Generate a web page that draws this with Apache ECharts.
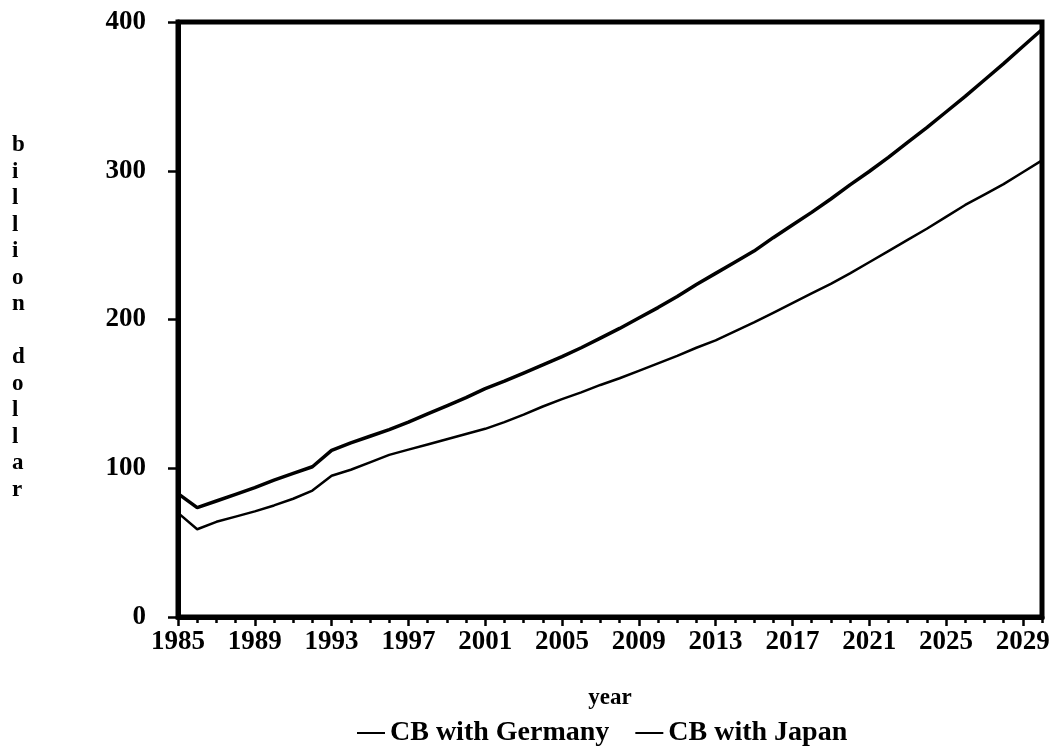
<!DOCTYPE html>
<html>
<head>
<meta charset="utf-8">
<script src="https://cdn.jsdelivr.net/npm/echarts@6/dist/echarts.min.js"></script>
<style>
html,body{margin:0;padding:0;background:#fff;}
#chart{width:1059px;height:754px;}
</style>
</head>
<body>
<div id="chart"></div>
<script>
const years = [];
for (let y = 1985; y <= 2030; y++) years.push(String(y));

const germany = [83, 73.5, 78, 82.5, 87, 92, 96.5, 101, 112, 117, 121.5, 126, 131, 136.5, 142, 147.5,
  153.5, 158.5, 164, 169.5, 175, 181, 187.5, 194, 201, 208, 215.5, 223.5, 231, 238.5, 246,
  255, 263.5, 272, 281, 290.5, 299.5, 309, 319, 329, 339.5, 350, 361, 372, 383.5, 395];

const japan = [70, 59, 64, 67.5, 71, 75, 79.5, 85, 95, 99, 104, 109, 112.5, 116, 119.5, 123,
  126.5, 131, 136, 141.5, 146.5, 151, 156, 160.5, 165.5, 170.5, 175.5, 181, 186, 192, 198,
  204.5, 211, 217.5, 224, 231, 238.5, 246, 253.5, 261, 269, 277, 284, 291, 299, 307];

const yTicks = [0, 100, 200, 300, 400];
const seriesNames = ['CB with Germany', 'CB with Japan'];
const yName = 'billion dollar';

const chart = echarts.init(document.getElementById('chart'), null, {renderer: 'canvas'});
const FONT = 'Liberation Serif';

chart.setOption({
  backgroundColor: '#fff',
  animation: false,
  grid: {left: 178, right: 17, top: 22, bottom: 137, show: true, borderColor: '#000', borderWidth: 5, backgroundColor: 'transparent'},
  legend: {
    bottom: 2, left: 352, itemWidth: 28, itemHeight: 14, itemGap: 26,
    icon: 'path://M0,6 L28,6 L28,8 L0,8 Z',
    data: seriesNames,
    textStyle: {fontFamily: FONT, fontWeight: 'bold', fontSize: 28, color: '#000'}
  },
  xAxis: [{
    type: 'category', data: years, boundaryGap: false,
    name: 'year', nameLocation: 'middle', nameGap: 70,
    nameTextStyle: {fontFamily: FONT, fontWeight: 'bold', fontSize: 23, color: '#000'},
    axisLine: {show: true, lineStyle: {color: '#000', width: 5}},
    axisTick: {show: true, interval: 0, length: 6, lineStyle: {color: '#000', width: 2.5}},
    axisLabel: {interval: 3, margin: 12, fontFamily: FONT, fontWeight: 'bold', fontSize: 27, color: '#000'},
    splitLine: {show: false}
  }, {
    type: 'category', data: years, boundaryGap: false, position: 'bottom',
    axisLine: {show: false},
    axisTick: {show: true, interval: 3, length: 9, lineStyle: {color: '#000', width: 2.5}},
    axisLabel: {show: false},
    splitLine: {show: false}
  }],
  yAxis: {
    type: 'value', min: 0, max: 400, interval: 100,
    axisLine: {show: true, lineStyle: {color: '#000', width: 5}},
    axisTick: {show: true, length: 10, lineStyle: {color: '#000', width: 2.5}},
    axisLabel: {margin: 32, fontFamily: FONT, fontWeight: 'bold', fontSize: 27, color: '#000',
      formatter: v => yTicks.includes(v) ? String(v) : ''},
    splitLine: {show: false}
  },
  graphic: [{
    type: 'text', left: 12, top: 132,
    style: {
      text: yName.split('').join('\n'),
      fontFamily: FONT, fontWeight: 'bold', fontSize: 23, lineHeight: 26.5,
      fill: '#000', align: 'center'
    }
  }],
  series: [{
    name: seriesNames[0], type: 'line', data: germany, symbol: 'none', smooth: false,
    lineStyle: {color: '#000', width: 3.5}, itemStyle: {color: '#000'}
  }, {
    name: seriesNames[1], type: 'line', data: japan, symbol: 'none', smooth: false,
    lineStyle: {color: '#000', width: 2.5}, itemStyle: {color: '#000'}
  }]
});
</script>
</body>
</html>
